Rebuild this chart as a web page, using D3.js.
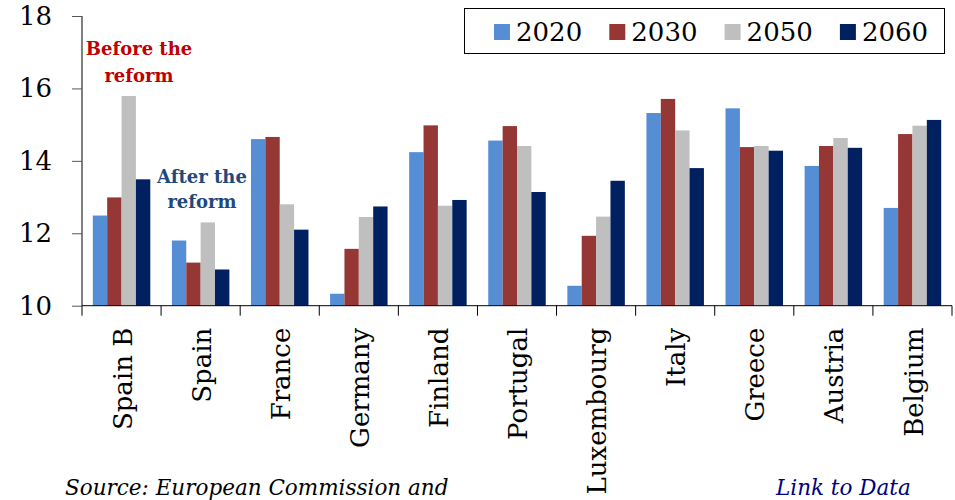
<!DOCTYPE html>
<html>
<head>
<meta charset="utf-8">
<script src="https://cdn.jsdelivr.net/npm/d3@7"></script>
<style>
  html, body { margin: 0; padding: 0; background: #fff; }
  svg { display: block; }
</style>
</head>
<body>
<svg id="chart" width="955" height="500"></svg>
<script>
const countries = ["Spain B", "Spain", "France", "Germany", "Finland", "Portugal", "Luxembourg", "Italy", "Greece", "Austria", "Belgium"];
const years = ["2020", "2030", "2050", "2060"];
const values2020 = [12.49, 11.80, 14.60, 10.33, 14.24, 14.56, 10.55, 15.32, 15.45, 13.86, 12.70];
const values2030 = [12.99, 11.19, 14.66, 11.57, 14.98, 14.96, 11.93, 15.71, 14.38, 14.41, 14.74];
const values2050 = [15.79, 12.30, 12.80, 12.45, 12.76, 14.41, 12.46, 14.84, 14.41, 14.63, 14.97];
const values2060 = [13.49, 11.00, 12.10, 12.74, 12.92, 13.14, 13.45, 13.80, 14.28, 14.36, 15.13];
const yTicks = [10, 12, 14, 16, 18];
const colors = ["#558ED5", "#953735", "#BFBFBF", "#002060"];

const series = [values2020, values2030, values2050, values2060];
const svg = d3.select("#chart");
const font = "'DejaVu Serif', serif";

const x = d3.scaleBand().domain(countries).range([82, 952]).padding(0);
const xs = d3.scaleBand().domain(years).range([10.8, x.bandwidth() - 10.8]).padding(0);
const y = d3.scaleLinear().domain([10, 18]).range([305.7, 16]);

// bars
const groups = svg.append("g").selectAll("g")
  .data(countries).join("g")
  .attr("transform", d => `translate(${x(d)},0)`);
groups.selectAll("rect")
  .data((c, i) => years.map((yr, k) => ({ yr, v: series[k][i], k })))
  .join("rect")
  .attr("x", d => xs(d.yr))
  .attr("width", xs.bandwidth())
  .attr("y", d => y(d.v))
  .attr("height", d => y(10) - y(d.v))
  .attr("fill", d => colors[d.k]);

// y axis
const yAxis = svg.append("g")
  .attr("transform", "translate(82,0)")
  .call(d3.axisLeft(y).tickValues(yTicks).tickSize(10).tickPadding(20).tickFormat(d3.format("d")));
yAxis.select(".domain").attr("stroke", "#000").attr("d", `M0,${y(18)}V${y(10)}`);
yAxis.selectAll(".tick line").attr("stroke", "#555");
yAxis.selectAll("text").attr("font-family", font).attr("font-size", 26).attr("fill", "#000");

// x axis
const xAxis = svg.append("g").attr("transform", `translate(0,${y(10)})`);
xAxis.append("line").attr("x1", 82).attr("x2", 952).attr("stroke", "#000");
const boundaries = countries.map(c => x(c)).concat([x(countries[countries.length - 1]) + x.bandwidth()]);
xAxis.selectAll(".xt").data(boundaries).join("line")
  .attr("class", "xt")
  .attr("x1", d => d).attr("x2", d => d)
  .attr("y1", 0).attr("y2", 10).attr("stroke", "#000");
xAxis.selectAll(".xl").data(countries).join("text")
  .attr("class", "xl")
  .attr("transform", d => `translate(${x(d) + x.bandwidth() / 2 + 1},22) rotate(-90)`)
  .attr("text-anchor", "end")
  .attr("dy", "0.35em")
  .attr("font-family", font)
  .attr("font-size", 26)
  .attr("fill", "#000")
  .text(d => d);

// legend
const lg = svg.append("g");
lg.append("rect").attr("x", 464.5).attr("y", 8.5).attr("width", 480).attr("height", 45)
  .attr("fill", "#fff").attr("stroke", "#000");
const lgItems = lg.selectAll(".li").data(years).join("g")
  .attr("class", "li")
  .attr("transform", (d, i) => `translate(${494 + i * 115.3},0)`);
lgItems.append("rect").attr("x", 0).attr("y", 24).attr("width", 16).attr("height", 16)
  .attr("fill", (d, i) => colors[i]);
lgItems.append("text").attr("x", 22).attr("y", 40.5)
  .attr("font-family", font).attr("font-size", 26).attr("fill", "#000")
  .text(d => d);

// annotations
const ann1 = svg.append("text").attr("font-family", font).attr("font-weight", "bold")
  .attr("font-size", 18).attr("fill", "#C00000").attr("text-anchor", "middle");
ann1.append("tspan").attr("x", 139).attr("y", 55).text("Before the");
ann1.append("tspan").attr("x", 139).attr("y", 82).text("reform");
const ann2 = svg.append("text").attr("font-family", font).attr("font-weight", "bold")
  .attr("font-size", 18).attr("fill", "#1F497D").attr("text-anchor", "middle");
ann2.append("tspan").attr("x", 202).attr("y", 183).text("After the");
ann2.append("tspan").attr("x", 202).attr("y", 208).text("reform");

// footer texts
svg.append("text").attr("x", 65).attr("y", 495)
  .attr("font-family", font).attr("font-style", "italic").attr("font-size", 21.5).attr("fill", "#000")
  .text("Source: European Commission and");
svg.append("text").attr("x", 776).attr("y", 495)
  .attr("font-family", font).attr("font-style", "italic").attr("font-size", 21.5).attr("fill", "#000080")
  .text("Link to Data");
</script>
</body>
</html>
